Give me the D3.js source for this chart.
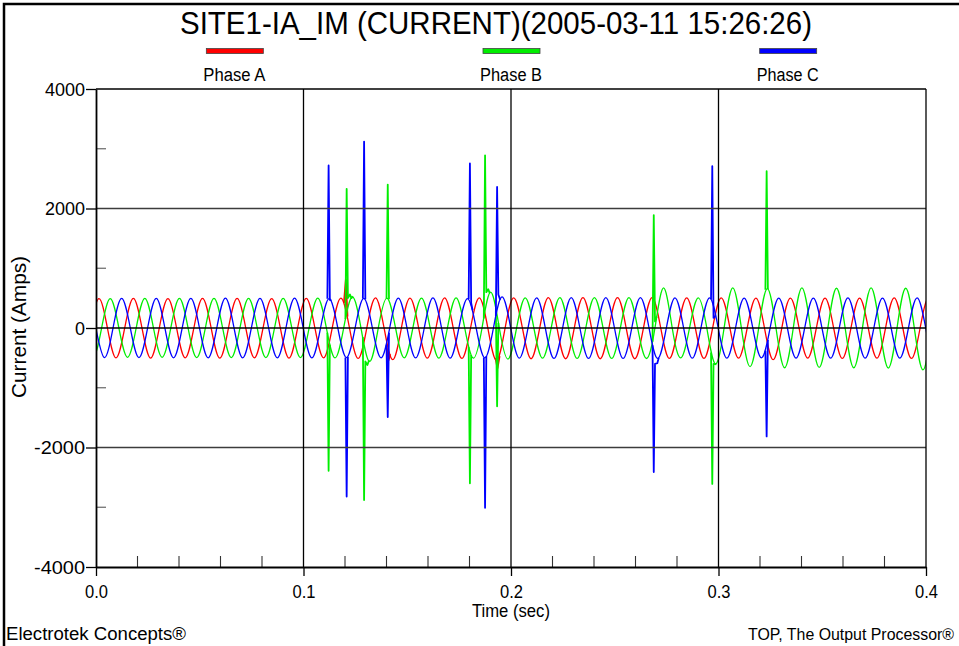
<!DOCTYPE html>
<html>
<head>
<meta charset="utf-8">
<script src="https://cdn.jsdelivr.net/npm/d3@7"></script>
<style>
  body { margin: 0; background: #fff; }
  svg { display: block; }
  text { font-family: "Liberation Sans Narrow", "Liberation Sans", Arial, sans-serif; fill: #000; }
</style>
</head>
<body>
<svg id="chart" width="959" height="646"></svg>
<script>
// ---- data ----
const titleText = 'SITE1-IA_IM (CURRENT)(2005-03-11 15:26:26)';
const phaseNames = ['Phase A', 'Phase B', 'Phase C'];
const yTicks = [-4000, -2000, 0, 2000, 4000];
const yMinorTicks = [-3000, -1000, 1000, 3000];
const yGrid = [-2000, 0, 2000];
const xTicks = [0, 0.1, 0.2, 0.3, 0.4];
const xTickLabels = ['0.0', '0.1', '0.2', '0.3', '0.4'];
const xMinorTicks = [0.02, 0.04, 0.06, 0.08, 0.12, 0.14, 0.16, 0.18,
  0.22, 0.24, 0.26, 0.28, 0.32, 0.34, 0.36, 0.38];
const xGrid = [0.1, 0.2, 0.3];

// 60 Hz record: one peak/trough value per half cycle, starting at firstPeakTime
const halfCycle = 1 / 120;
const firstPeakTime = [-0.0070, -0.0098, -0.0043];

const peaksA = [-495, 490, -500, 495, -505, 490, -500, 495, -505, 495,
  -500, 490, -505, 495, -500, 500, -510, 505, -530, 500,
  -505, 505, -510, 505, -540, 505, -515, 510, -515, 510,
  -515, 510, -515, 510, -510, 505, -510, 505, -505, 500,
  -530, 500, -505, 500, -510, 500, -505, 505, -510, 500, -505];

const peaksB = [490, -490, 490, -490, 495, -490, 495, -495, 495, -495,
  495, -495, 495, -495, 500, -500, 520, -560, 500, -500,
  500, -505, 505, -505, 600, -520, 505, -505, 510, -510,
  510, -510, 510, -510, 670, -500, 505, -600, 670, -645,
  660, -665, 670, -660, 665, -665, 670, -670, 665, -700, 660, -660];

const peaksC = [495, -495, 495, -495, 495, -500, 495, -500, 500, -500,
  495, -500, 500, -500, 490, -495, 495, -500, 500, -500,
  505, -505, 490, -500, 520, -505, 505, -510, 510, -510,
  510, -510, 510, -510, 505, -505, 505, -505, 500, -500,
  500, -505, 500, -505, 505, -505, 500, -505, 505, -505, 500];

// transient spikes, each one a short run of [time (s), current (A)]
const spikesA = [
  [[0.1195, 420], [0.1204, 810], [0.1212, 190]],
  [[0.1401, -330], [0.1410, -540], [0.1418, -440]],
  [[0.1925, -500], [0.1935, -670], [0.1945, -470]]
];
const spikesB = [
  [[0.1115, -80], [0.1121, -2390], [0.1127, -280]],
  [[0.1202, 150], [0.1208, 2330], [0.1214, 500], [0.1224, 560], [0.1231, 500], [0.1238, 530]],
  [[0.1286, -150], [0.1292, -2880], [0.1298, -560], [0.1308, -620], [0.1316, -540]],
  [[0.1400, 495], [0.1406, 2400], [0.1412, 480]],
  [[0.1796, -320], [0.1802, -2600], [0.1808, -450]],
  [[0.1869, 160], [0.1875, 2890], [0.1881, 600], [0.1890, 650], [0.1898, 580]],
  [[0.1927, 290], [0.1933, -1310], [0.1939, 85]],
  [[0.2682, -230], [0.2688, 1890], [0.2694, 110], [0.2702, 190]],
  [[0.2964, -410], [0.2970, -2610], [0.2976, -600], [0.2990, -610]],
  [[0.3226, 640], [0.3232, 2625], [0.3238, 650]]
];
const spikesC = [
  [[0.1115, 490], [0.1121, 2720], [0.1127, 470], [0.1135, 460]],
  [[0.1202, -495], [0.1208, -2820], [0.1214, -480]],
  [[0.1286, 495], [0.1292, 3120], [0.1298, 480]],
  [[0.1400, -280], [0.1406, -1490], [0.1412, -80]],
  [[0.1796, 486], [0.1802, 2755], [0.1808, 420], [0.1815, 300]],
  [[0.1869, -495], [0.1875, -3010], [0.1881, -470]],
  [[0.1927, 200], [0.1933, 2360], [0.1939, 560], [0.1948, 470]],
  [[0.2682, -290], [0.2688, -2410], [0.2694, -600], [0.2705, -590], [0.2712, -500]],
  [[0.2964, 480], [0.2970, 2710], [0.2976, 170], [0.2985, 200]],
  [[0.3226, -380], [0.3232, -1815], [0.3238, -200]]
];

// ---- presentation ----
const config = {
  width: 959,
  height: 646,
  plot: { left: 96, right: 926, top: 89, bottom: 567 },
  colors: ['#ff0000', '#00ee00', '#0000ff'],
  font: '"Liberation Sans Narrow", "Liberation Sans", Arial, sans-serif'
};

const svg = d3.select('#chart');
const { plot } = config;

const x = d3.scaleLinear().domain([0, 0.4]).range([plot.left, plot.right]);
const y = d3.scaleLinear().domain([-4000, 4000]).range([plot.bottom, plot.top]);

// outer frame
svg.append('rect')
  .attr('x', 4).attr('y', 4)
  .attr('width', 1000).attr('height', 700)
  .attr('fill', 'none').attr('stroke', '#000').attr('stroke-width', 2.5);

// fixed-width label helper (the original uses tightly spaced type)
const label = (sel, width) => sel.attr('textLength', width).attr('lengthAdjust', 'spacingAndGlyphs');

// title
svg.append('text')
  .attr('x', 496).attr('y', 34)
  .attr('text-anchor', 'middle')
  .attr('font-size', 31)
  .call(label, 632)
  .text(titleText);

// legend
const legendX = [1 / 6, 3 / 6, 5 / 6].map(f => plot.left + f * (plot.right - plot.left));
const legend = svg.append('g').selectAll('g')
  .data(phaseNames)
  .join('g')
  .attr('transform', (d, i) => `translate(${legendX[i]},0)`);
legend.append('rect')
  .attr('x', -28).attr('y', 48.5)
  .attr('width', 57).attr('height', 5)
  .attr('fill', (d, i) => config.colors[i])
  .attr('stroke', '#444').attr('stroke-width', 0.8);
legend.append('text')
  .attr('y', 81)
  .attr('text-anchor', 'middle')
  .attr('font-size', 18)
  .call(label, 62)
  .text(d => d);

// waveforms
svg.append('defs').append('clipPath').attr('id', 'plotClip')
  .append('rect')
  .attr('x', plot.left).attr('y', 0)
  .attr('width', plot.right - plot.left).attr('height', config.height);

const basePoints = (peaks, t0) => {
  const pts = [];
  peaks.forEach((v, i) => {
    const t = t0 + i * halfCycle;
    pts.push([t, v]);
    if (i < peaks.length - 1) pts.push([t + halfCycle / 2, 0]);
  });
  return pts;
};

const smoothLine = d3.line()
  .x(d => x(d[0])).y(d => y(d[1]))
  .curve(d3.curveNatural);
const sharpLine = d3.line()
  .x(d => x(d[0])).y(d => y(d[1]));

const waves = svg.append('g').attr('clip-path', 'url(#plotClip)');
[[peaksA, spikesA], [peaksB, spikesB], [peaksC, spikesC]].forEach(([peaks, spikes], i) => {
  const g = waves.append('g')
    .attr('fill', 'none')
    .attr('stroke', config.colors[i])
    .attr('stroke-width', 1.3)
    .attr('stroke-linejoin', 'round');
  g.append('path').attr('d', smoothLine(basePoints(peaks, firstPeakTime[i])));
  g.selectAll('path.spike')
    .data(spikes)
    .join('path')
    .attr('class', 'spike')
    .attr('stroke-width', 1.8)
    .attr('d', sharpLine);
});

// grid
const grid = svg.append('g');
grid.selectAll('line.h')
  .data(yGrid)
  .join('line')
  .attr('class', 'h')
  .attr('x1', plot.left).attr('x2', plot.right)
  .attr('y1', d => y(d)).attr('y2', d => y(d))
  .attr('stroke', d => d === 0 ? '#000' : '#3c3c3c')
  .attr('stroke-width', 1.4);
grid.selectAll('line.v')
  .data(xGrid)
  .join('line')
  .attr('class', 'v')
  .attr('x1', d => x(d)).attr('x2', d => x(d))
  .attr('y1', plot.top).attr('y2', plot.bottom)
  .attr('stroke', '#000').attr('stroke-width', 1.3);

// frame lines top / right
svg.append('line')
  .attr('x1', plot.left).attr('x2', plot.right)
  .attr('y1', plot.top).attr('y2', plot.top)
  .attr('stroke', '#000').attr('stroke-width', 1.3);
svg.append('line')
  .attr('x1', plot.right).attr('x2', plot.right)
  .attr('y1', plot.top).attr('y2', plot.bottom)
  .attr('stroke', '#000').attr('stroke-width', 1.3);

// minor ticks
svg.append('g').selectAll('line')
  .data(yMinorTicks)
  .join('line')
  .attr('x1', plot.left).attr('x2', plot.left + 10)
  .attr('y1', d => y(d)).attr('y2', d => y(d))
  .attr('stroke', '#666').attr('stroke-width', 1.2);
svg.append('g').selectAll('line')
  .data(xMinorTicks)
  .join('line')
  .attr('x1', d => x(d)).attr('x2', d => x(d))
  .attr('y1', plot.bottom).attr('y2', plot.bottom - 11)
  .attr('stroke', '#333').attr('stroke-width', 1.1);

// axes
const yAxis = svg.append('g')
  .attr('transform', `translate(${plot.left},0)`)
  .call(d3.axisLeft(y).tickValues(yTicks).tickSize(10).tickSizeOuter(0).tickPadding(1)
    .tickFormat(d => String(d)));
const xAxis = svg.append('g')
  .attr('transform', `translate(0,${plot.bottom})`)
  .call(d3.axisBottom(x).tickValues(xTicks).tickSize(9).tickSizeOuter(0).tickPadding(9)
    .tickFormat((d, i) => xTickLabels[i]));
[yAxis, xAxis].forEach(a => {
  a.select('.domain').attr('stroke', '#000').attr('stroke-width', 1.8);
  a.selectAll('.tick line').attr('stroke', '#000').attr('stroke-width', 1.3);
  a.selectAll('.tick text')
    .attr('font-family', config.font)
    .attr('font-size', 19)
    .attr('fill', '#000');
});
yAxis.selectAll('.tick text').each(function () {
  const t = d3.select(this);
  t.call(label, t.text().length * 10 + (t.text().startsWith('-') ? 1 : 0));
});
xAxis.selectAll('.tick text').call(label, 23);

// axis titles
svg.append('text')
  .attr('x', 511).attr('y', 617)
  .attr('text-anchor', 'middle')
  .attr('font-size', 18)
  .call(label, 78)
  .text('Time (sec)');
svg.append('text')
  .attr('transform', 'translate(26,327) rotate(-90)')
  .attr('text-anchor', 'middle')
  .attr('font-size', 21)
  .call(label, 142)
  .text('Current (Amps)');

// footer
svg.append('text')
  .attr('x', 6).attr('y', 640)
  .attr('font-size', 18)
  .call(label, 180)
  .text('Electrotek Concepts®');
svg.append('text')
  .attr('x', 748).attr('y', 640)
  .attr('font-size', 16)
  .call(label, 206)
  .text('TOP, The Output Processor®');
</script>
</body>
</html>
